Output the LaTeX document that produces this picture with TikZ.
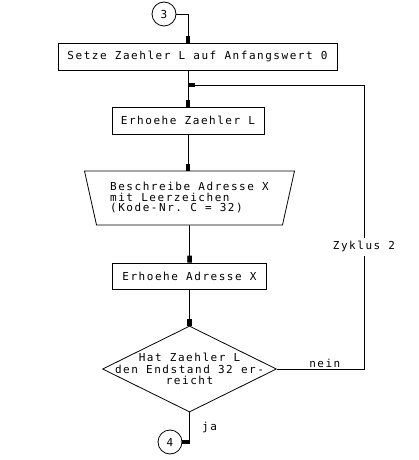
\documentclass[tikz,border=0pt]{standalone}
\usepackage{fontspec}
\setmonofont{DejaVu Sans Mono}[LetterSpace=14]
\usetikzlibrary{shapes.geometric,arrows.meta}

\begin{document}
\begin{tikzpicture}[x=1pt,y=-1pt,line width=0.8pt,
  font=\ttfamily\fontsize{11}{10.5}\selectfont,
  box/.style={draw,rectangle,minimum height=27pt,inner sep=0pt},
  io/.style={draw,trapezium,trapezium left angle=68.7,trapezium right angle=68.7,
    shape border rotate=180,trapezium stretches body,minimum width=210pt,
    minimum height=54pt,inner sep=0pt},
  decision/.style={draw,diamond,minimum width=174pt,minimum height=86pt,inner sep=0pt},
  conn/.style={draw,circle,minimum size=24pt,inner sep=0pt},
  flow/.style={-{Rectangle[length=7pt,width=4.5pt]}}]
  \useasboundingbox (0,0) rectangle (418,460);
  \node[conn] (c3) at (164,14) {3};
  \node[box,minimum width=279pt] (s1) at (197.5,56.5) {Setze Zaehler L auf Anfangswert 0};
  \node[box,minimum width=152pt] (b2) at (188,120.5) {Erhoehe Zaehler L};
  \node[io,align=left] (t) at (189.5,198) {Beschreibe Adresse X\\mit Leerzeichen\\(Kode-Nr. C = 32)};
  \node[box,minimum width=154pt,minimum height=26pt] (b3) at (189.5,276) {Erhoehe Adresse X};
  \node[decision] (d) at (189.5,369) {};
  \node[align=center,font=\ttfamily\fontsize{11}{11.3}\selectfont] (dtext) at (d)
    {Hat Zaehler L\\den Endstand 32 er-\\reicht};
  \node[conn] (c4) at (170,442) {4};
  \coordinate (ret) at (364,85);
  % Ablauf
  \draw[flow] (c3.east) -| (b2.north |- s1.north);
  \draw[flow] (b2.north |- s1.south) -- (b2.north);
  \draw[flow] (b2.south) -- (b2.south |- t.north);
  \draw[flow] (t.south) -- (b3.north);
  \draw[flow] (b3.south) -- (d.north);
  % Zyklus 2
  \draw[flow] (d.east) -- node[above,inner sep=1pt,pos=0.55] {nein} (d.east -| ret)
    -- node[fill=white,pos=0.43] {Zyklus 2} (ret) -- (ret -| b2.north);
  \draw[flow] (d.south) |- node[pos=0.25,right=9pt] {ja} (c4.east);
\end{tikzpicture}
\end{document}
